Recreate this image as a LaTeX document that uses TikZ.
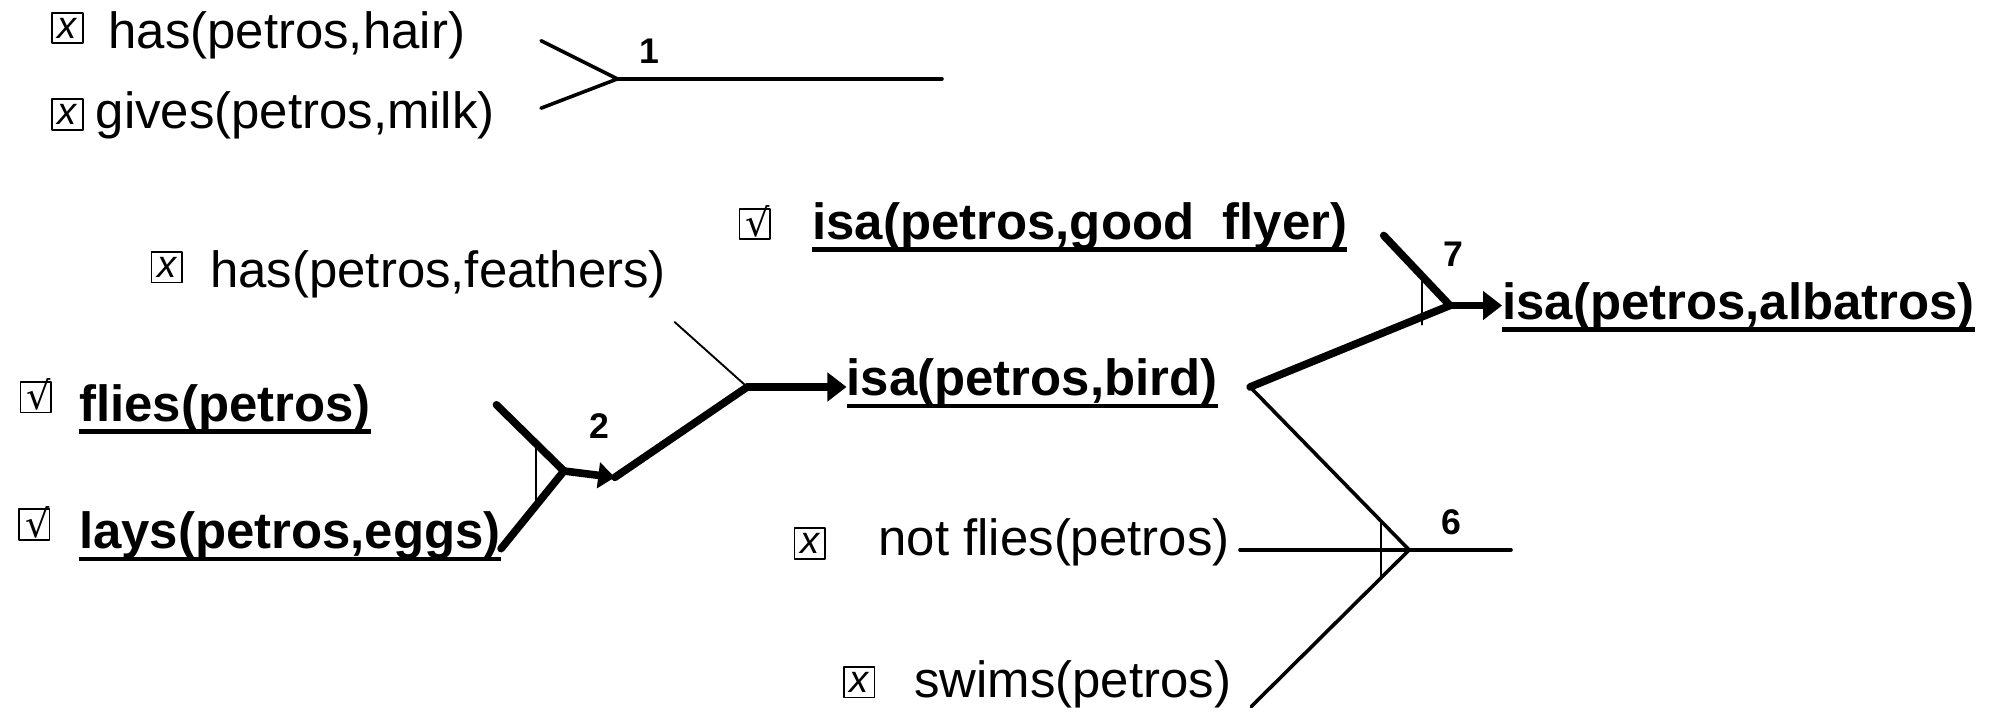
\documentclass[tikz,border=0pt]{standalone}
\usepackage{fontspec}
\setmainfont{Liberation Sans}
\newfontfamily\symfont{DejaVu Sans}
\usetikzlibrary{arrows.meta}
% tick mark set inside a fixed-size box
\newcommand\yesmark{\smash{\makebox[0pt]{\hspace{5pt}\raisebox{-10pt}{√}}}}
% underscore lowered onto the underline
\newcommand\lowbar{\raisebox{-4pt}{\_}}

\begin{document}
\begin{tikzpicture}[x=1pt,y=-1pt, line cap=round, line join=round,
  fact/.style={anchor=base west, inner sep=0pt, font=\fontsize{40}{48}\selectfont},
  goal/.style={fact, font=\fontsize{40}{48}\selectfont\bfseries},
  num/.style={inner sep=0pt, font=\fontsize{28}{32}\selectfont\bfseries},
  cbox/.style={draw, line width=1.3pt, minimum size=24pt, inner sep=0pt},
  nobox/.style={cbox, font=\fontsize{30}{30}\selectfont\itshape},
  yesbox/.style={cbox, font=\fontsize{30}{30}\selectfont\symfont},
  thin/.style={line width=1.5pt},
  mid/.style={line width=2.8pt},
  heavy/.style={line width=6pt},
  uline/.style={line width=3.5pt, line cap=butt},
  tip/.style={-{Triangle[length=15pt,width=22pt]}},
  smalltip/.style={-{Triangle[length=13pt,width=20pt]}}
]
\useasboundingbox (0,0) rectangle (1568,559);

% facts and goals
\node[nobox] (cbHair) at (53,22) {x};
\node[fact] (hair) at (85,38) {has(petros,hair)};
\node[nobox] (cbMilk) at (53,90) {x};
\node[fact] (milk) at (75,101) {gives(petros,milk)};
\node[yesbox] (cbFlyer) at (593,176) {\yesmark};
\node[goal] (flyer) at (638,188) {isa(petros,good\lowbar flyer)};
\node[nobox] (cbFeath) at (131,210) {x};
\node[fact] (feath) at (165,226) {has(petros,feathers)};
\node[yesbox] (cbFlies) at (28,312) {\yesmark};
\node[goal] (flies) at (62,331) {flies(petros)};
\node[yesbox] (cbEggs) at (27,412) {\yesmark};
\node[goal] (eggs) at (62,431) {lays(petros,eggs)};
\node[goal] (bird) at (665,311) {isa(petros,bird)};
\node[goal] (alb) at (1180,251) {isa(petros,albatros)};
\node[nobox] (cbNotFly) at (636,427) {x};
\node[fact] (notfly) at (690,436) {not flies(petros)};
\node[nobox] (cbSwims) at (675,536) {x};
\node[fact] (swims) at (718,548) {swims(petros)};

\foreach \n in {flyer,flies,eggs,bird,alb}
  \draw[uline] ([yshift=-8pt]\n.base west) -- ([yshift=-8pt]\n.base east);

% rule 1
\coordinate (r1a) at (425,32);
\coordinate (r1b) at (425,85);
\coordinate (r1) at (485,62);
\coordinate (r1out) at (740,62);
\draw[mid] (r1a) -- (r1) -- (r1b);
\draw[mid] (r1) -- (r1out);
\node[num] (n1) at (510,40) {1};

% rule 2
\coordinate (r2a) at (390,318);
\coordinate (r2) at (443,370);
\coordinate (r2out) at (483,375);
\coordinate (r2barA) at (421,347);
\coordinate (r2barB) at (421,395);
\draw[heavy] (r2a) -- (r2) -- (eggs.base east);
\draw[thin] (r2barA) -- (r2barB);
\draw[heavy, smalltip] (r2) -- (r2out);
\node[num] (n2) at (471,335) {2};

% rule concluding isa(petros,bird)
\coordinate (rb) at (587,304);
\coordinate (rbF) at (530,253);
\draw[heavy] (r2out) -- (rb);
\draw[thin] (rbF) -- (rb);
\draw[heavy, tip] (rb) -- (rb -| bird.west);

% rule 7
\coordinate (bo) at (982,304);
\coordinate (r7a) at (1087,185);
\coordinate (r7) at (1139,240);
\coordinate (r7barA) at (1117,217);
\coordinate (r7barB) at (1117,255);
\draw[heavy] (bo) -- (r7);
\draw[heavy] (r7a) -- (r7);
\draw[thin] (r7barA) -- (r7barB);
\draw[heavy, tip] (r7) -- (r7 -| alb.west);
\node[num] (n7) at (1142,200) {7};

% rule 6
\coordinate (r6) at (1107,432);
\coordinate (r6out) at (1187,432);
\coordinate (r6s) at (983,555);
\coordinate (r6barA) at (1085,409);
\coordinate (r6barB) at (1085,455);
\draw[mid] (bo) -- (r6) -- (r6s);
\draw[mid] ([xshift=8pt]r6 -| notfly.east) -- (r6out);
\draw[thin] (r6barA) -- (r6barB);
\node[num] (n6) at (1140,410) {6};
\end{tikzpicture}
\end{document}
